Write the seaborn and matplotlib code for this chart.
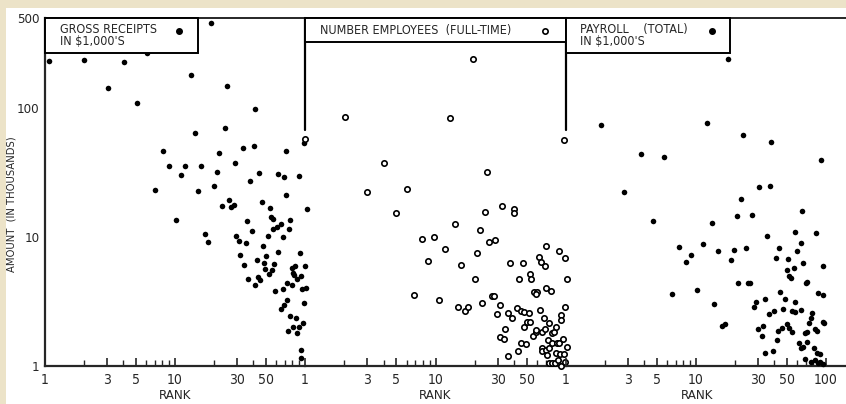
import pandas as pd
import matplotlib
matplotlib.use("Agg")
import matplotlib.pyplot as plt
from matplotlib.patches import Rectangle
from matplotlib.ticker import FixedLocator, NullFormatter
import seaborn as sns

# panel 1: gross receipts (filled dots)
p1_rank = [1.07, 2.0, 3.05, 4.05, 5.1, 6.1, 18.9, 13.3, 25.1, 41.2, 24.2, 14.3,
           8.1, 33.4, 40.5, 21.8, 71.4, 98.2, 9.0, 11.9, 15.8, 11.1, 21.0, 29.0,
           44.3, 37.8, 62.0, 68.9, 89.9, 7.0, 15.0, 20.0, 71.4, 26.0, 23.0, 27.0,
           28.4, 46.7, 53.8, 103.6, 10.2, 35.8, 54.8, 56.7, 76.7, 60.9, 65.3, 75.3,
           56.7, 17.0, 29.5, 39.1, 51.9, 67.7,
           17.9, 31.1, 35.2, 47.5, 62.0, 91.5, 31.6, 42.7, 50.1, 34.0, 48.4, 57.7,
           49.2, 52.9, 55.7, 79.4, 83.8, 100, 80.9, 82.3, 93.2, 86.8, 36.5, 43.5,
           45.1, 41.2, 72.7, 79.4, 58.8, 67.7, 94.8, 101.8, 72.7, 68.9, 65.3, 98.2,
           76.7, 85.3, 96.5, 89.9, 80.9, 74.0, 86.8, 93.2, 93.2]
p1_amount = [231, 236, 143, 227, 109, 267, 456, 180, 148, 98, 70, 64,
             46.4, 49, 51, 44.8, 46.4, 53.5, 35.5, 35.8, 35.8, 30.3, 31.9, 37.5,
             31.3, 27.2, 30.8, 29.2, 29.7, 23.1, 22.7, 24.9, 21.2, 19.4, 17.4, 17.1,
             17.7, 18.7, 16.8, 16.5, 13.5, 13.3, 14.3, 13.8, 13.5, 12.0, 12.6, 11.5,
             11.5, 10.5, 10.2, 11.1, 10.2, 10.0,
             9.1, 9.3, 9.0, 8.5, 7.7, 7.5, 7.25, 6.6, 7.1, 6.1, 6.3, 6.2,
             5.65, 5.17, 5.55, 5.75, 6.0, 6.0, 5.26, 5.08, 4.98, 4.72, 4.72, 4.9,
             4.64, 4.24, 4.4, 4.24, 3.81, 3.95, 3.95, 4.02, 3.25, 2.97, 2.77, 3.08,
             2.44, 2.36, 2.15, 2.0, 2.0, 1.87, 1.8, 1.33, 1.15]

# panel 2: number of employees (open circles)
p2_rank = [1.0, 2.03, 13.0, 19.3, 96.5, 4.0, 24.7, 3.0, 6.0, 5.0, 7.9, 9.8,
           8.8, 11.9, 6.9, 10.7, 14.0, 15.6, 14.8, 16.7, 17.9, 20.7, 20.0, 21.8,
           23.8, 22.6, 25.6, 28.4, 32.2, 39.8, 39.8, 27.0, 27.9, 31.1, 29.5, 35.8,
           38.4, 34.0, 31.1, 33.4, 35.8, 37.1, 46.7, 43.5, 52.9, 53.8, 42.0, 45.0,
           47.5, 52.0, 47.5, 50.0, 53.0, 42.7, 45.0, 49.2, 55.7, 58.8, 57.0, 60.0,
           59.0, 70.2, 62.0, 64.2, 68.9, 70.2, 76.7, 88.4, 98.2, 101.8, 98.2, 63.0,
           67.7, 74.0, 91.5, 91.5, 65.0, 69.0, 78.0, 81.0, 72.7, 84.0, 95.0, 101.8,
           65.0, 66.0, 70.0, 74.0, 78.0, 85.0, 88.0, 71.0, 74.0, 78.0, 83.0, 87.0,
           84.0, 90.0, 96.5, 59.0, 92.0, 98.0]
p2_amount = [58, 85, 83.6, 240, 56.5, 37.5, 31.9, 22.3, 23.5, 15.4, 9.6, 10.0,
             6.5, 8.1, 3.55, 3.25, 12.6, 6.1, 2.87, 2.67, 2.87, 7.5, 4.72, 11.3,
             15.6, 3.08, 9.15, 9.5, 17.4, 16.5, 15.4, 3.49, 3.49, 2.97, 2.53, 2.57,
             2.36, 1.94, 1.68, 1.62, 1.2, 6.3, 6.3, 4.72, 5.17, 4.72, 2.82, 2.67,
             2.62, 2.57, 2.0, 2.19, 2.19, 1.31, 1.51, 1.48, 1.71, 1.83, 3.75, 3.75,
             3.6, 8.5, 7.0, 6.4, 6.0, 4.02, 3.81, 7.8, 6.9, 4.72, 2.87, 2.72,
             2.36, 2.15, 2.49, 2.27, 1.83, 1.94, 1.8, 1.83, 1.59, 2.0, 1.62, 1.4,
             1.38, 1.31, 1.33, 1.38, 1.51, 1.51, 1.51, 1.22, 1.05, 1.05, 1.05, 1.11,
             1.26, 1.24, 1.24, 1.9, 1.0, 1.08]

# panel 3: payroll (filled dots)
p3_rank = [17.6, 1.86, 12.2, 23.0, 37.8, 91.5, 3.78, 5.7, 2.8, 30.5, 37.1, 22.2,
           65.3, 20.7, 27.0, 13.3, 4.67, 7.4, 9.2, 8.4, 11.3, 14.8, 19.6, 18.6,
           24.2, 35.2, 57.7, 83.8, 43.5, 64.2, 59.8, 41.2, 51.0, 66.5, 94.8, 56.7,
           50.0, 52.0, 54.0, 71.0, 70.0, 13.7, 6.5, 10.2, 21.0, 25.0, 26.0, 34.0,
           29.0, 28.0, 44.3, 48.0, 47.0, 40.0, 36.5, 58.0, 55.0, 58.0, 64.0, 87.0,
           95.0, 78.0, 76.0, 74.0, 95.0, 97.0, 15.8, 16.7, 30.0, 33.0, 32.0, 50.0,
           42.7, 45.8, 52.0, 55.0, 42.0, 69.0, 71.0, 82.0, 85.0, 62.0, 64.0, 66.5,
           71.0, 34.0, 39.0, 81.0, 90.0, 85.0, 69.0, 76.0, 82.0, 87.0, 90.0, 95.0]
p3_amount = [240, 73.8, 76.5, 61.8, 54.5, 39.5, 44.0, 41.7, 22.3, 24.4, 24.9, 19.7,
             15.9, 14.5, 14.8, 12.8, 13.3, 8.4, 7.25, 6.4, 8.8, 7.8, 7.9, 6.6,
             8.2, 10.2, 10.9, 10.7, 8.2, 9.0, 7.8, 6.9, 6.75, 6.3, 6.0, 5.75,
             5.55, 4.98, 4.8, 4.5, 4.4, 3.03, 3.6, 3.88, 4.4, 4.4, 4.4, 3.3,
             3.13, 2.87, 3.75, 3.3, 2.77, 2.67, 2.53, 3.13, 2.67, 2.62, 2.72, 3.68,
             3.55, 2.57, 2.36, 2.15, 2.19, 2.15, 2.04, 2.11, 1.94, 2.04, 1.71, 2.11,
             1.87, 1.97, 1.97, 1.83, 1.59, 1.8, 1.83, 1.94, 1.87, 1.51, 1.38, 1.4,
             1.53, 1.26, 1.31, 1.38, 1.24, 1.26, 1.13, 1.07, 1.11, 1.05, 1.07, 1.04]

titles = ["GROSS RECEIPTS\nIN $1,000'S",
          "NUMBER EMPLOYEES  (FULL-TIME)",
          "PAYROLL    (TOTAL)\nIN $1,000'S"]
major_x = [1, 3, 5, 10, 30, 50]
major_labels = ["1", "3", "5", "10", "30", "50"]
minor_x = [2, 4, 6, 7, 8, 9, 20, 40, 60, 70, 80, 90]

sns.set_style("white")
plt.rcParams['font.family'] = ['DejaVu Sans']
plt.rcParams['font.stretch'] = 'condensed'

fig = plt.figure(figsize=(8.46, 4.04), dpi=100)
W, H = 846, 404

def px_axes(x0, x1, y0=18, y1=366):
    return fig.add_axes([x0 / W, 1 - y1 / H, (x1 - x0) / W, (y1 - y0) / H])

ax1 = px_axes(45, 305)
ax2 = px_axes(305, 566)
ax3 = px_axes(566, 846)
axes = [ax1, ax2, ax3]

df1 = pd.DataFrame({"rank": p1_rank, "amount": p1_amount})
df2 = pd.DataFrame({"rank": p2_rank, "amount": p2_amount})
df3 = pd.DataFrame({"rank": p3_rank, "amount": p3_amount})

sns.scatterplot(data=df1, x="rank", y="amount", ax=ax1, color="black",
                s=16, linewidth=0, clip_on=False, zorder=3)
sns.scatterplot(data=df2, x="rank", y="amount", ax=ax2, facecolor="white",
                edgecolor="black", s=15, linewidth=1.2, clip_on=False, zorder=3)
sns.scatterplot(data=df3, x="rank", y="amount", ax=ax3, color="black",
                s=16, linewidth=0, clip_on=False, zorder=3)

xmaxes = [100, 100, 10 ** (280 / 130)]
for i, ax in enumerate(axes):
    ax.set_xscale("log")
    ax.set_yscale("log")
    ax.set_xlim(1, xmaxes[i])
    ax.set_ylim(1, 500)
    ax.set_facecolor("none")
    for side in ["left", "right"]:
        ax.spines[side].set_visible(False)
    ax.spines["bottom"].set_linewidth(1.6)
    ax.spines["top"].set_linewidth(1.4)
    ticks = major_x + ([100] if i == 2 else [])
    labels = major_labels + (["100"] if i == 2 else [])
    ax.xaxis.set_major_locator(FixedLocator(ticks))
    ax.set_xticklabels(labels)
    ax.xaxis.set_minor_locator(FixedLocator(minor_x))
    ax.xaxis.set_minor_formatter(NullFormatter())
    ax.tick_params(axis="x", which="major", direction="in", length=6, width=1.2,
                   labelsize=10, pad=5, top=False, bottom=True)
    ax.tick_params(axis="x", which="minor", direction="in", length=4, width=1,
                   top=False, bottom=True)
    ax.set_xlabel("RANK", fontsize=9.5)
    ax.set_ylabel("")
    if i > 0:
        ax.set_yticks([])
        ax.yaxis.set_minor_locator(FixedLocator([]))

ax1.xaxis.set_label_coords(0.5, -0.067)
ax2.xaxis.set_label_coords(0.5, -0.067)
ax3.xaxis.set_label_coords((697 - 566) / 280, -0.067)

# y axis on first panel only
ax1.spines["left"].set_visible(True)
ax1.spines["left"].set_linewidth(1.6)
ax1.set_yticks([1, 10, 100, 500])
ax1.set_yticklabels(["1", "10", "100", "500"])
ax1.tick_params(axis="y", which="major", direction="in", length=5, width=1.2,
                labelsize=9.5, pad=4)
ax1.tick_params(axis="y", which="minor", direction="in", length=2, width=0.8)
ax1.yaxis.set_minor_formatter(NullFormatter())

# partial dividers between panels
for ax in [ax1, ax2]:
    ax.axvline(ax.get_xlim()[1], ymin=0.678, ymax=1, color="black", lw=1.6,
               clip_on=False)

# label boxes
boxes = [(0.588, 0.10), (1.0, 0.069), (0.586, 0.10)]
text_x = [0.058, 0.057, 0.05]
marker_pos = [(0.515, 0.963), (0.92, 0.962), (0.52, 0.963)]
for i, ax in enumerate(axes):
    bw, bh = boxes[i]
    ax.add_patch(Rectangle((0, 1 - bh), bw, bh, transform=ax.transAxes,
                           facecolor="white", edgecolor="black", lw=1.4,
                           clip_on=False, zorder=4))
    ax.text(text_x[i], 1 - bh / 2, titles[i], transform=ax.transAxes,
            ha="left", va="center", fontsize=9, linespacing=0.95, zorder=5)
    mx, my = marker_pos[i]
    if i == 1:
        ax.plot(mx, my, "o", transform=ax.transAxes, mfc="white", mec="black",
                mew=1.2, ms=3.8, zorder=5, clip_on=False)
    else:
        ax.plot(mx, my, "o", transform=ax.transAxes, color="black", ms=4,
                zorder=5, clip_on=False)

fig.text(12 / W, 1 - 204 / H, "AMOUNT  (IN THOUSANDS)", rotation=90,
         ha="center", va="center", fontsize=8)

# scan border tint
fig.patches.append(Rectangle((0, 1 - 8 / H), 1, 8 / H, transform=fig.transFigure,
                             facecolor="#ece3c8", edgecolor="none", zorder=0))
fig.patches.append(Rectangle((0, 0), 6 / W, 1, transform=fig.transFigure,
                             facecolor="#ece3c8", edgecolor="none", zorder=0))

fig.savefig("out.png", dpi=100, facecolor="white")
